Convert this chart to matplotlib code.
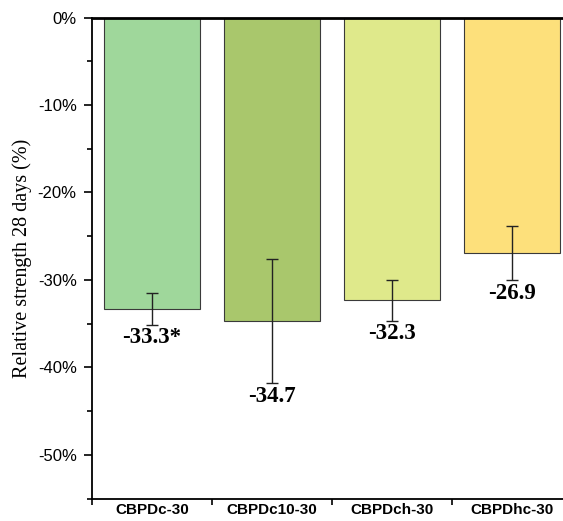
import numpy as np
import matplotlib.pyplot as plt
from matplotlib.ticker import FuncFormatter, MultipleLocator, FixedLocator

# Relative 28-day strength of each mix (% change), with std deviation
mixes = ["CBPDc-30", "CBPDc10-30", "CBPDch-30", "CBPDhc-30"]
strength = [-33.3, -34.7, -32.3, -26.9]
std_dev = [1.8, 7.1, 2.35, 3.1]
value_labels = ["-33.3*", "-34.7", "-32.3", "-26.9"]
colors = ["#9fd79b", "#a9c76c", "#dfe98b", "#fde07b"]

fig = plt.figure(figsize=(5.63, 5.21), dpi=100)
ax = fig.add_axes([0.1634, 0.0428, 0.8526, 0.9236])

x = np.arange(len(mixes))
ax.bar(x, strength, width=0.8, color=colors, edgecolor="#3a3a3a", linewidth=0.8)
ax.errorbar(x, strength, yerr=std_dev, fmt="none", ecolor="#222222",
            elinewidth=1.0, capsize=4, capthick=1.0)

for xi, v, e, lab in zip(x, strength, std_dev, value_labels):
    ax.text(xi, v - e - 0.3, lab, ha="center", va="top",
            fontsize=16.5, fontweight="bold", family="Liberation Serif")

ax.set_xlim(-0.5, 3.5)
ax.set_ylim(-55, 0)

ax.yaxis.set_major_locator(MultipleLocator(10))
ax.yaxis.set_minor_locator(MultipleLocator(5))
ax.yaxis.set_major_formatter(FuncFormatter(lambda v, p: f"{v:.0f}%"))
ax.tick_params(axis="y", which="major", direction="out", length=6, width=1.2,
               labelsize=12, pad=5)
ax.tick_params(axis="y", which="minor", direction="out", length=3.5, width=1.2)
for t in ax.get_yticklabels():
    t.set_family("Liberation Sans")

ax.set_xticks(x)
ax.set_xticklabels(mixes, fontsize=11, fontweight="bold", family="Liberation Sans")
ax.xaxis.set_minor_locator(FixedLocator([-0.5, 0.5, 1.5, 2.5]))
ax.tick_params(axis="x", which="major", length=0, pad=3)
ax.tick_params(axis="x", which="minor", direction="out", length=4, width=1.2)

ax.set_ylabel("Relative strength 28 days (%)", fontsize=14.5,
              family="Liberation Serif", labelpad=4)

for side in ["left", "bottom", "top"]:
    ax.spines[side].set_linewidth(1.3)
ax.spines["top"].set_linewidth(2)
ax.spines["right"].set_visible(False)

fig.savefig("out.png", dpi=100)
